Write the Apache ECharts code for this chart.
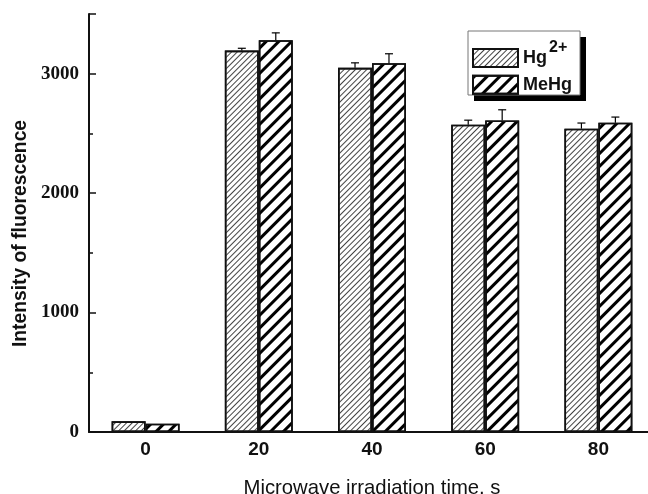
<!DOCTYPE html>
<html>
<head>
<meta charset="utf-8">
<script src="https://cdn.jsdelivr.net/npm/echarts@6/dist/echarts.min.js"></script>
<style>
  html, body { margin: 0; padding: 0; background: #fff; }
  #chart { width: 648px; height: 494px; }
</style>
</head>
<body>
<div id="chart"></div>
<script>
// microwave irradiation time, s
const categories = ['0', '20', '40', '60', '80'];
// fluorescence intensity
const hgValues = [89, 3194, 3049, 2573, 2540];
const mehgValues = [69, 3280, 3088, 2609, 2590];
// upper error (only drawn upwards)
const hgErrors = [0, 19, 42, 38, 47];
const mehgErrors = [0, 62, 79, 89, 47];
const yTicks = [0, 1000, 2000, 3000];

const chart = echarts.init(document.getElementById('chart'));

// bars take 60% of the band, 30% each -> centre offset 15%
const errorSeries = (name, values, errors, side) => ({
  name: name + ' err',
  type: 'custom',
  z: 5,
  data: values.map((v, i) => [i, v, v + errors[i]]),
  renderItem: (params, api) => {
    const band = api.size([1, 0])[0];
    const x = api.coord([api.value(0), 0])[0] + side * band * 0.15;
    const y0 = api.coord([0, api.value(1)])[1];
    const y1 = api.coord([0, api.value(2)])[1];
    if (y0 - y1 < 0.5) return null;
    const st = { stroke: '#000', lineWidth: 1.2 };
    return {
      type: 'group',
      children: [
        { type: 'line', shape: { x1: x, y1: y0, x2: x, y2: y1 }, style: st },
        { type: 'line', shape: { x1: x - 4, y1: y1, x2: x + 4, y2: y1 }, style: st }
      ]
    };
  }
});

chart.setOption({
  animation: false,
  grid: { left: 89, top: 14, bottom: 62, width: 566, outerBoundsMode: 'none' },
  // legend frame with its hard black drop shadow, plus the "2+" superscript
  graphic: [
    { type: 'rect', z: 1, shape: { x: 474, y: 37, width: 112, height: 64 }, style: { fill: '#000' } },
    { type: 'rect', z: 2, shape: { x: 468, y: 31, width: 112, height: 64 }, style: { fill: '#fff', stroke: '#777', lineWidth: 1 } },
    {
      type: 'text', z: 12, left: 549, top: 40,
      style: { text: '2+', fill: '#111', font: 'bold 16px "Liberation Sans"' }
    }
  ],
  legend: {
    z: 10,
    data: ['Hg2+', 'MeHg'],
    icon: 'rect',
    orient: 'vertical',
    left: 472,
    top: 48,
    itemWidth: 45,
    itemHeight: 18,
    itemGap: 6.7,
    padding: 0,
    formatter: (name) => name === 'Hg2+' ? 'Hg' : name,
    textStyle: { fontFamily: 'Liberation Sans', fontWeight: 'bold', fontSize: 18, lineHeight: 18, color: '#111' }
  },
  xAxis: {
    type: 'category',
    data: categories,
    name: 'Microwave irradiation time, s',
    nameLocation: 'middle',
    nameGap: 46,
    nameTextStyle: { fontFamily: 'Liberation Sans', fontSize: 20.3, color: '#111' },
    axisLine: { lineStyle: { color: '#111', width: 2 } },
    axisTick: { inside: true, length: 3, lineStyle: { color: '#111', width: 1.5 } },
    axisLabel: { margin: 8, fontFamily: 'Liberation Sans', fontWeight: 'bold', fontSize: 19, color: '#111' }
  },
  yAxis: {
    type: 'value',
    min: 0,
    max: 3500,
    interval: 1000,
    name: 'Intensity of fluorescence',
    nameLocation: 'middle',
    nameGap: 55,
    nameTextStyle: { fontFamily: 'Liberation Sans', fontWeight: 'bold', fontSize: 19.3, color: '#111', padding: [0, 21, 0, 0] },
    splitLine: { show: false },
    axisLine: { show: true, lineStyle: { color: '#111', width: 2 } },
    axisTick: { show: true, inside: true, length: 7, lineStyle: { color: '#111', width: 1.5 } },
    minorTick: { show: true, splitNumber: 2, length: 4, lineStyle: { color: '#111', width: 1.5 } },
    axisLabel: {
      margin: 10,
      fontFamily: 'Liberation Serif',
      fontWeight: 'bold',
      fontSize: 19,
      color: '#111',
      formatter: (v) => yTicks.includes(v) ? String(v) : ''
    }
  },
  series: [
    {
      name: 'Hg2+',
      type: 'bar',
      data: hgValues,
      barGap: '0%',
      barCategoryGap: '40%',
      itemStyle: {
        color: '#fff',
        borderColor: '#111',
        borderWidth: 1.6,
        decal: { symbol: 'rect', symbolSize: 1, dashArrayX: [1, 0], dashArrayY: [1, 2.3], rotation: -Math.PI / 4, color: '#444' }
      }
    },
    {
      name: 'MeHg',
      type: 'bar',
      data: mehgValues,
      barGap: '0%',
      barCategoryGap: '40%',
      itemStyle: {
        color: '#fff',
        borderColor: '#111',
        borderWidth: 1.6,
        decal: { symbol: 'rect', symbolSize: 1, dashArrayX: [1, 0], dashArrayY: [2.2, 6], rotation: -Math.PI / 4, color: '#000' }
      }
    },
    errorSeries('Hg2+', hgValues, hgErrors, -1),
    errorSeries('MeHg', mehgValues, mehgErrors, 1)
  ]
});
</script>
</body>
</html>
